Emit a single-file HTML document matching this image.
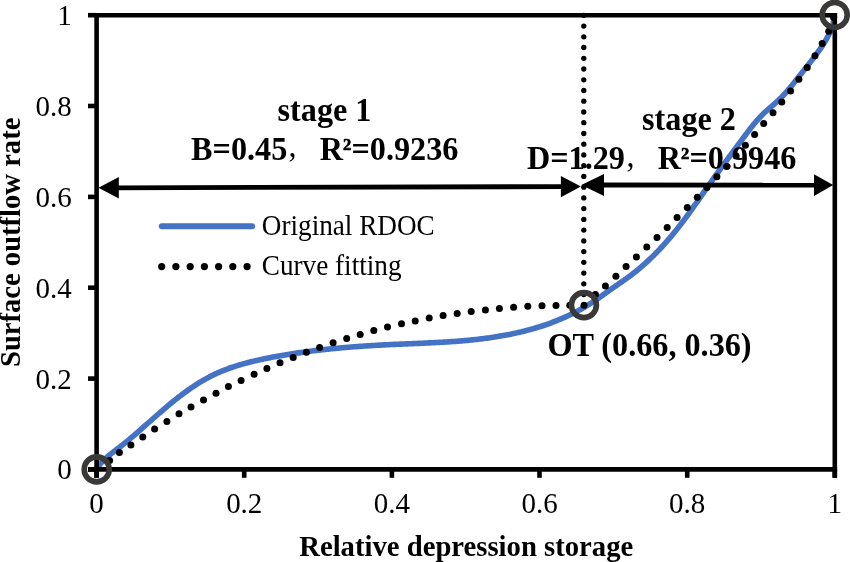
<!DOCTYPE html>
<html><head><meta charset="utf-8"><title>chart</title>
<style>
html,body{margin:0;padding:0;background:#fff;width:850px;height:562px;overflow:hidden;}
svg{display:block;will-change:transform;}
text{font-family:"Liberation Serif",serif;fill:#000;}
</style></head>
<body>
<svg width="850" height="562" viewBox="0 0 850 562">
<rect width="850" height="562" fill="#fff"/>
<path d="M96.48,469.26 L97.28,467.99 L98.11,466.76 L98.99,465.56 L99.91,464.40 L100.87,463.26 L101.85,462.15 L102.87,461.07 L103.92,460.02 L104.99,458.98 L106.09,457.97 L107.21,456.97 L108.35,455.99 L109.50,455.03 L110.67,454.08 L111.86,453.14 L113.05,452.21 L114.24,451.28 L115.45,450.36 L116.65,449.45 L117.85,448.53 L119.06,447.61 L120.25,446.69 L121.44,445.77 L122.62,444.84 L123.80,443.90 L124.97,442.96 L126.13,442.02 L127.29,441.07 L128.44,440.12 L129.59,439.17 L130.73,438.21 L131.87,437.24 L133.01,436.28 L134.14,435.31 L135.27,434.33 L136.39,433.36 L137.52,432.38 L138.64,431.40 L139.76,430.42 L140.88,429.43 L142.00,428.44 L143.11,427.46 L144.23,426.46 L145.35,425.47 L146.47,424.48 L147.59,423.48 L148.71,422.49 L149.83,421.49 L150.96,420.49 L152.09,419.49 L153.21,418.49 L154.35,417.50 L155.48,416.50 L156.61,415.50 L157.75,414.51 L158.89,413.51 L160.04,412.52 L161.18,411.53 L162.33,410.54 L163.48,409.55 L164.63,408.57 L165.79,407.59 L166.95,406.61 L168.11,405.63 L169.28,404.66 L170.45,403.70 L171.62,402.73 L172.80,401.78 L173.98,400.82 L175.17,399.88 L176.35,398.93 L177.54,398.00 L178.74,397.07 L179.94,396.14 L181.14,395.22 L182.35,394.31 L183.56,393.41 L184.78,392.51 L186.00,391.62 L187.23,390.74 L188.46,389.87 L189.69,389.00 L190.93,388.15 L192.18,387.30 L193.43,386.46 L194.68,385.64 L195.94,384.82 L197.21,384.01 L198.48,383.21 L199.75,382.42 L201.04,381.65 L202.32,380.88 L203.62,380.13 L204.92,379.39 L206.22,378.66 L207.53,377.94 L208.85,377.23 L210.17,376.54 L211.50,375.86 L212.83,375.19 L214.18,374.54 L215.52,373.90 L216.88,373.28 L218.24,372.67 L219.61,372.07 L220.98,371.49 L222.36,370.92 L223.74,370.36 L225.14,369.81 L226.53,369.28 L227.93,368.76 L229.34,368.25 L230.75,367.75 L232.17,367.27 L233.59,366.79 L235.01,366.33 L236.44,365.87 L237.87,365.43 L239.31,364.99 L240.75,364.57 L242.20,364.15 L243.64,363.74 L245.10,363.35 L246.55,362.96 L248.01,362.58 L249.47,362.20 L250.93,361.84 L252.39,361.48 L253.86,361.13 L255.33,360.78 L256.80,360.45 L258.27,360.11 L259.75,359.79 L261.22,359.47 L262.70,359.15 L264.18,358.85 L265.66,358.54 L267.14,358.24 L268.62,357.95 L270.10,357.66 L271.58,357.37 L273.06,357.09 L274.55,356.81 L276.03,356.53 L277.51,356.26 L278.99,355.99 L280.48,355.73 L281.96,355.47 L283.44,355.22 L284.93,354.96 L286.41,354.72 L287.90,354.47 L289.38,354.23 L290.87,353.99 L292.36,353.76 L293.84,353.53 L295.33,353.30 L296.82,353.08 L298.30,352.86 L299.79,352.64 L301.28,352.43 L302.77,352.22 L304.26,352.01 L305.75,351.81 L307.24,351.61 L308.73,351.41 L310.22,351.22 L311.71,351.03 L313.20,350.84 L314.69,350.65 L316.18,350.47 L317.67,350.29 L319.16,350.12 L320.65,349.95 L322.15,349.78 L323.64,349.61 L325.13,349.45 L326.63,349.28 L328.12,349.13 L329.61,348.97 L331.11,348.82 L332.60,348.67 L334.10,348.52 L335.59,348.37 L337.09,348.23 L338.58,348.09 L340.08,347.96 L341.57,347.82 L343.07,347.69 L344.56,347.56 L346.06,347.43 L347.56,347.31 L349.06,347.18 L350.55,347.06 L352.05,346.94 L353.55,346.83 L355.05,346.71 L356.54,346.60 L358.04,346.49 L359.54,346.39 L361.04,346.28 L362.54,346.18 L364.04,346.08 L365.54,345.98 L367.04,345.88 L368.54,345.78 L370.04,345.69 L371.54,345.60 L373.04,345.51 L374.54,345.42 L376.04,345.33 L377.54,345.25 L379.05,345.16 L380.55,345.08 L382.05,345.00 L383.55,344.92 L385.05,344.85 L386.56,344.77 L388.06,344.70 L389.56,344.62 L391.07,344.55 L392.57,344.48 L394.07,344.41 L395.58,344.35 L397.08,344.28 L398.58,344.21 L400.09,344.15 L401.59,344.09 L403.09,344.02 L404.60,343.96 L406.10,343.90 L407.61,343.83 L409.11,343.77 L410.62,343.71 L412.12,343.65 L413.62,343.58 L415.13,343.52 L416.63,343.46 L418.14,343.39 L419.64,343.33 L421.15,343.26 L422.65,343.20 L424.15,343.13 L425.66,343.06 L427.16,342.99 L428.66,342.92 L430.17,342.85 L431.67,342.78 L433.17,342.71 L434.68,342.63 L436.18,342.55 L437.68,342.47 L439.18,342.39 L440.68,342.31 L442.19,342.22 L443.69,342.13 L445.19,342.04 L446.69,341.95 L448.19,341.86 L449.69,341.76 L451.19,341.66 L452.69,341.55 L454.19,341.45 L455.69,341.34 L457.19,341.23 L458.68,341.11 L460.18,340.99 L461.68,340.87 L463.18,340.74 L464.67,340.61 L466.17,340.47 L467.66,340.34 L469.16,340.19 L470.65,340.05 L472.15,339.90 L473.64,339.74 L475.13,339.58 L476.63,339.42 L478.12,339.25 L479.61,339.08 L481.10,338.90 L482.59,338.71 L484.08,338.53 L485.57,338.33 L487.06,338.13 L488.55,337.93 L490.03,337.72 L491.52,337.50 L493.00,337.28 L494.49,337.06 L495.97,336.82 L497.46,336.59 L498.94,336.34 L500.42,336.09 L501.90,335.83 L503.38,335.57 L504.86,335.30 L506.34,335.02 L507.82,334.74 L509.30,334.45 L510.77,334.15 L512.24,333.85 L513.72,333.53 L515.19,333.22 L516.66,332.89 L518.12,332.56 L519.59,332.22 L521.05,331.87 L522.52,331.52 L523.98,331.16 L525.44,330.79 L526.89,330.41 L528.35,330.03 L529.80,329.63 L531.25,329.23 L532.70,328.83 L534.14,328.41 L535.59,327.99 L537.03,327.55 L538.46,327.11 L539.90,326.66 L541.33,326.21 L542.76,325.74 L544.19,325.27 L545.61,324.78 L547.03,324.29 L548.45,323.79 L549.86,323.28 L551.27,322.76 L552.68,322.23 L554.08,321.70 L555.48,321.15 L556.88,320.60 L558.27,320.03 L559.66,319.46 L561.04,318.88 L562.43,318.28 L563.80,317.68 L565.18,317.07 L566.55,316.45 L567.91,315.81 L569.27,315.17 L570.63,314.52 L571.98,313.86 L573.33,313.19 L574.67,312.51 L576.01,311.82 L577.34,311.11 L578.67,310.40 L579.99,309.68 L581.30,308.95 L582.61,308.21 L583.92,307.47 L585.22,306.71 L586.51,305.94 L587.80,305.16 L589.08,304.37 L590.35,303.58 L591.62,302.77 L592.88,301.95 L594.13,301.13 L595.38,300.29 L596.62,299.45 L597.86,298.59 L599.09,297.73 L600.31,296.87 L601.53,296.00 L602.75,295.13 L603.97,294.25 L605.19,293.37 L606.41,292.50 L607.63,291.62 L608.85,290.75 L610.08,289.88 L611.31,289.02 L612.55,288.16 L613.79,287.30 L615.03,286.44 L616.27,285.59 L617.51,284.74 L618.76,283.88 L620.00,283.03 L621.24,282.17 L622.48,281.31 L623.72,280.45 L624.95,279.58 L626.18,278.71 L627.40,277.83 L628.62,276.95 L629.83,276.05 L631.03,275.15 L632.23,274.24 L633.42,273.32 L634.60,272.39 L635.78,271.45 L636.95,270.51 L638.11,269.56 L639.26,268.60 L640.41,267.63 L641.55,266.65 L642.68,265.67 L643.81,264.68 L644.93,263.68 L646.04,262.67 L647.15,261.66 L648.25,260.64 L649.34,259.61 L650.43,258.57 L651.51,257.53 L652.58,256.48 L653.65,255.43 L654.71,254.37 L655.77,253.30 L656.82,252.23 L657.86,251.15 L658.90,250.06 L659.93,248.97 L660.96,247.87 L661.98,246.77 L663.00,245.66 L664.00,244.55 L665.01,243.43 L666.00,242.30 L667.00,241.17 L667.98,240.04 L668.96,238.90 L669.94,237.76 L670.91,236.61 L671.88,235.45 L672.84,234.29 L673.79,233.13 L674.74,231.97 L675.68,230.80 L676.62,229.62 L677.56,228.44 L678.49,227.26 L679.41,226.07 L680.33,224.88 L681.25,223.69 L682.16,222.49 L683.07,221.29 L683.97,220.09 L684.87,218.89 L685.77,217.68 L686.66,216.47 L687.55,215.25 L688.43,214.04 L689.32,212.82 L690.20,211.60 L691.08,210.38 L691.95,209.16 L692.83,207.93 L693.70,206.71 L694.57,205.48 L695.44,204.25 L696.30,203.02 L697.17,201.79 L698.03,200.56 L698.90,199.33 L699.76,198.10 L700.62,196.86 L701.49,195.63 L702.35,194.40 L703.21,193.17 L704.07,191.93 L704.94,190.70 L705.80,189.47 L706.67,188.24 L707.53,187.01 L708.40,185.78 L709.27,184.55 L710.13,183.33 L711.00,182.10 L711.87,180.87 L712.75,179.65 L713.62,178.43 L714.49,177.20 L715.37,175.98 L716.25,174.76 L717.12,173.54 L718.00,172.32 L718.88,171.10 L719.76,169.88 L720.64,168.67 L721.53,167.45 L722.41,166.23 L723.29,165.02 L724.18,163.80 L725.06,162.59 L725.95,161.38 L726.84,160.16 L727.73,158.95 L728.61,157.74 L729.50,156.53 L730.39,155.32 L731.29,154.11 L732.18,152.90 L733.07,151.69 L733.96,150.48 L734.86,149.27 L735.75,148.06 L736.65,146.85 L737.55,145.65 L738.44,144.44 L739.34,143.23 L740.24,142.02 L741.14,140.82 L742.04,139.61 L742.93,138.40 L743.83,137.20 L744.74,135.99 L745.64,134.79 L746.54,133.58 L747.45,132.38 L748.36,131.18 L749.27,129.99 L750.19,128.80 L751.11,127.61 L752.04,126.43 L752.98,125.26 L753.93,124.10 L754.89,122.94 L755.86,121.80 L756.84,120.66 L757.83,119.54 L758.83,118.43 L759.85,117.33 L760.88,116.25 L761.93,115.18 L762.99,114.12 L764.07,113.08 L765.17,112.05 L766.28,111.04 L767.39,110.03 L768.52,109.04 L769.65,108.04 L770.78,107.05 L771.92,106.07 L773.05,105.08 L774.18,104.09 L775.31,103.09 L776.43,102.09 L777.54,101.08 L778.64,100.06 L779.72,99.03 L780.79,97.99 L781.85,96.93 L782.88,95.85 L783.91,94.76 L784.92,93.66 L785.92,92.55 L786.91,91.43 L787.89,90.30 L788.86,89.16 L789.82,88.02 L790.77,86.86 L791.72,85.70 L792.66,84.54 L793.59,83.36 L794.53,82.19 L795.46,81.01 L796.39,79.83 L797.32,78.65 L798.24,77.46 L799.17,76.28 L800.10,75.10 L801.04,73.92 L801.97,72.74 L802.91,71.56 L803.85,70.38 L804.78,69.20 L805.72,68.02 L806.66,66.83 L807.59,65.65 L808.53,64.47 L809.46,63.28 L810.38,62.09 L811.31,60.90 L812.23,59.71 L813.15,58.51 L814.06,57.31 L814.96,56.11 L815.86,54.90 L816.76,53.69 L817.64,52.48 L818.52,51.26 L819.39,50.03 L820.25,48.80 L821.11,47.56 L821.95,46.32 L822.77,45.07 L823.58,43.81 L824.38,42.54 L825.16,41.26 L825.92,39.97 L826.66,38.67 L827.38,37.36 L828.07,36.04 L828.75,34.71 L829.39,33.37 L830.01,32.01 L830.61,30.63 L831.17,29.25 L831.70,27.84 L832.20,26.42 L832.67,24.99 L833.10,23.54 L833.49,22.07 L833.85,20.58 L834.17,19.08 L834.44,17.55" fill="none" stroke="#4472c4" stroke-width="5.6" stroke-linejoin="round" stroke-linecap="round"/><g fill="#000"><circle cx="109.6" cy="460.4" r="3.5"/><circle cx="119.4" cy="452.6" r="3.5"/><circle cx="130.9" cy="444.9" r="3.5"/><circle cx="142.8" cy="436.9" r="3.5"/><circle cx="154.6" cy="428.9" r="3.5"/><circle cx="166.9" cy="421.5" r="3.5"/><circle cx="179.0" cy="413.8" r="3.5"/><circle cx="191.0" cy="406.9" r="3.5"/><circle cx="203.5" cy="400.1" r="3.5"/><circle cx="216.0" cy="393.2" r="3.5"/><circle cx="228.4" cy="386.6" r="3.5"/><circle cx="241.1" cy="380.5" r="3.5"/><circle cx="254.1" cy="374.3" r="3.5"/><circle cx="266.9" cy="368.4" r="3.5"/><circle cx="280.0" cy="362.7" r="3.5"/><circle cx="293.2" cy="357.4" r="3.5"/><circle cx="306.4" cy="352.2" r="3.5"/><circle cx="319.6" cy="347.4" r="3.5"/><circle cx="333.1" cy="342.7" r="3.5"/><circle cx="346.7" cy="338.4" r="3.5"/><circle cx="360.2" cy="334.4" r="3.5"/><circle cx="373.8" cy="330.6" r="3.5"/><circle cx="387.5" cy="327.0" r="3.5"/><circle cx="401.5" cy="323.8" r="3.5"/><circle cx="415.2" cy="320.9" r="3.5"/><circle cx="429.2" cy="318.0" r="3.5"/><circle cx="443.1" cy="315.6" r="3.5"/><circle cx="457.2" cy="313.5" r="3.5"/><circle cx="471.2" cy="311.6" r="3.5"/><circle cx="485.4" cy="309.9" r="3.5"/><circle cx="499.4" cy="308.5" r="3.5"/><circle cx="513.6" cy="307.2" r="3.5"/><circle cx="527.8" cy="306.3" r="3.5"/><circle cx="542.0" cy="305.8" r="3.5"/><circle cx="556.0" cy="305.6" r="3.5"/><circle cx="569.8" cy="305.3" r="3.5"/><circle cx="584.0" cy="305.3" r="3.5"/><circle cx="595.4" cy="294.6" r="3.5"/><circle cx="605.4" cy="285.9" r="3.5"/><circle cx="615.9" cy="276.3" r="3.5"/><circle cx="626.1" cy="266.5" r="3.5"/><circle cx="636.4" cy="256.9" r="3.5"/><circle cx="646.8" cy="247.1" r="3.5"/><circle cx="657.0" cy="237.4" r="3.5"/><circle cx="667.2" cy="227.4" r="3.5"/><circle cx="677.1" cy="217.6" r="3.5"/><circle cx="687.3" cy="207.4" r="3.5"/><circle cx="697.3" cy="197.2" r="3.5"/><circle cx="706.9" cy="187.4" r="3.5"/><circle cx="716.9" cy="176.7" r="3.5"/><circle cx="726.7" cy="166.5" r="3.5"/><circle cx="736.1" cy="155.9" r="3.5"/><circle cx="745.4" cy="145.2" r="3.5"/><circle cx="754.6" cy="134.5" r="3.5"/><circle cx="763.7" cy="123.5" r="3.5"/><circle cx="773.0" cy="112.8" r="3.5"/><circle cx="781.8" cy="101.9" r="3.5"/><circle cx="790.6" cy="90.9" r="3.5"/><circle cx="798.9" cy="79.2" r="3.5"/><circle cx="807.2" cy="67.5" r="3.5"/><circle cx="815.0" cy="55.7" r="3.5"/><circle cx="822.2" cy="43.4" r="3.5"/><circle cx="828.7" cy="31.3" r="3.5"/><circle cx="833.6" cy="17.6" r="3.5"/></g><g fill="#000"><circle cx="583.8" cy="305.3" r="2.65"/><circle cx="583.8" cy="294.6" r="2.65"/><circle cx="583.8" cy="283.8" r="2.65"/><circle cx="583.8" cy="273.1" r="2.65"/><circle cx="583.8" cy="262.3" r="2.65"/><circle cx="583.8" cy="251.6" r="2.65"/><circle cx="583.8" cy="240.9" r="2.65"/><circle cx="583.8" cy="230.1" r="2.65"/><circle cx="583.8" cy="219.4" r="2.65"/><circle cx="583.8" cy="208.6" r="2.65"/><circle cx="583.8" cy="197.9" r="2.65"/><circle cx="583.8" cy="187.2" r="2.65"/><circle cx="583.8" cy="176.4" r="2.65"/><circle cx="583.8" cy="165.7" r="2.65"/><circle cx="583.8" cy="154.9" r="2.65"/><circle cx="583.8" cy="144.2" r="2.65"/><circle cx="583.8" cy="133.5" r="2.65"/><circle cx="583.8" cy="122.7" r="2.65"/><circle cx="583.8" cy="112.0" r="2.65"/><circle cx="583.8" cy="101.2" r="2.65"/><circle cx="583.8" cy="90.5" r="2.65"/><circle cx="583.8" cy="79.8" r="2.65"/><circle cx="583.8" cy="69.0" r="2.65"/><circle cx="583.8" cy="58.3" r="2.65"/><circle cx="583.8" cy="47.5" r="2.65"/><circle cx="583.8" cy="36.8" r="2.65"/><circle cx="583.8" cy="26.1" r="2.65"/><circle cx="583.8" cy="15.3" r="2.65"/></g><g stroke="#000" stroke-width="4.6" fill="none"><line x1="96.6" y1="12.9" x2="96.6" y2="477.8"/><line x1="88.0" y1="469.4" x2="837.1" y2="469.4"/><line x1="94.3" y1="15.2" x2="837.1" y2="15.2"/><line x1="834.8" y1="12.9" x2="834.8" y2="477.8"/><line x1="88" y1="469.4" x2="96.6" y2="469.4"/><line x1="96.6" y1="469.4" x2="96.6" y2="477.8"/><line x1="88" y1="378.6" x2="96.6" y2="378.6"/><line x1="244.2" y1="469.4" x2="244.2" y2="477.8"/><line x1="88" y1="287.7" x2="96.6" y2="287.7"/><line x1="391.9" y1="469.4" x2="391.9" y2="477.8"/><line x1="88" y1="196.9" x2="96.6" y2="196.9"/><line x1="539.5" y1="469.4" x2="539.5" y2="477.8"/><line x1="88" y1="106.0" x2="96.6" y2="106.0"/><line x1="687.2" y1="469.4" x2="687.2" y2="477.8"/><line x1="88" y1="15.2" x2="96.6" y2="15.2"/><line x1="834.8" y1="469.4" x2="834.8" y2="477.8"/></g><line x1="114.7" y1="187.8" x2="564.9" y2="186.6" stroke="#000" stroke-width="4.8"/><polygon points="98.5,187.8 118.8,198.4 118.8,177.0"/><polygon points="580.9,186.6 560.9,197.3 560.9,175.9"/><line x1="599.5" y1="185.0" x2="817.8" y2="185.1" stroke="#000" stroke-width="4.8"/><polygon points="581.3,185.0 604.0,195.9 604.0,174.1"/><polygon points="833.2,185.1 814.0,196.0 814.0,174.2"/><circle cx="96.7" cy="469.4" r="12.5" fill="none" stroke="#3b3838" stroke-width="5.6"/><circle cx="583.9" cy="305.1" r="12.5" fill="none" stroke="#3b3838" stroke-width="5.6"/><circle cx="834.7" cy="14.9" r="12.5" fill="none" stroke="#3b3838" stroke-width="5.6"/><line x1="161.8" y1="226.2" x2="252.1" y2="226.2" stroke="#4472c4" stroke-width="6" stroke-linecap="round"/><g fill="#000"><circle cx="161.7" cy="266.6" r="3.6"/><circle cx="175.9" cy="266.6" r="3.6"/><circle cx="190.2" cy="266.6" r="3.6"/><circle cx="204.4" cy="266.6" r="3.6"/><circle cx="218.6" cy="266.6" r="3.6"/><circle cx="232.8" cy="266.6" r="3.6"/><circle cx="247.1" cy="266.6" r="3.6"/></g><text transform="translate(71.80,479.40) scale(1,1.020)" font-size="29.0" text-anchor="end">0</text><text transform="translate(96.60,513.00) scale(1,1.020)" font-size="29.0" text-anchor="middle">0</text><text transform="translate(71.80,388.56) scale(1,1.020)" font-size="29.0" text-anchor="end">0.2</text><text transform="translate(244.24,513.00) scale(1,1.020)" font-size="29.0" text-anchor="middle">0.2</text><text transform="translate(71.80,297.72) scale(1,1.020)" font-size="29.0" text-anchor="end">0.4</text><text transform="translate(391.88,513.00) scale(1,1.020)" font-size="29.0" text-anchor="middle">0.4</text><text transform="translate(71.80,206.88) scale(1,1.020)" font-size="29.0" text-anchor="end">0.6</text><text transform="translate(539.52,513.00) scale(1,1.020)" font-size="29.0" text-anchor="middle">0.6</text><text transform="translate(71.80,116.04) scale(1,1.020)" font-size="29.0" text-anchor="end">0.8</text><text transform="translate(687.16,513.00) scale(1,1.020)" font-size="29.0" text-anchor="middle">0.8</text><text transform="translate(71.80,25.20) scale(1,1.020)" font-size="29.0" text-anchor="end">1</text><text transform="translate(834.80,513.00) scale(1,1.020)" font-size="29.0" text-anchor="middle">1</text><text transform="translate(261.80,234.90) scale(1,1.050)" font-size="27.2" text-anchor="start">Original RDOC</text><text transform="translate(261.80,274.50) scale(1,1.050)" font-size="27.2" text-anchor="start">Curve fitting</text><text transform="translate(324.50,120.50) scale(1,1.050)" font-size="32.2" font-weight="bold" text-anchor="middle">stage 1</text><text transform="translate(689.00,129.50) scale(1,1.050)" font-size="32.2" font-weight="bold" text-anchor="middle">stage 2</text><text transform="translate(0,160.00) scale(1,1.050)" font-size="32.2" font-weight="bold"><tspan x="191.10">B=0.45</tspan><tspan x="288.60" dy="-2.5" font-weight="normal" font-size="32">,</tspan><tspan x="319.65" dy="2.5">R</tspan><tspan font-size="16.5" dy="-9.6" stroke="#000" stroke-width="0.6">2</tspan><tspan dy="9.6" dx="0.35">=0.9236</tspan></text><text transform="translate(0,169.40) scale(1,1.050)" font-size="32.2" font-weight="bold"><tspan x="527.00">D=1.29</tspan><tspan x="626.60" dy="-2.5" font-weight="normal" font-size="32">,</tspan><tspan x="657.65" dy="2.5">R</tspan><tspan font-size="16.5" dy="-9.6" stroke="#000" stroke-width="0.6">2</tspan><tspan dy="9.6" dx="0.35">=0.9946</tspan></text><text transform="translate(547.40,356.20) scale(1,1.050)" font-size="32.2" font-weight="bold" text-anchor="start">OT (0.66, 0.36)</text><text transform="translate(466.20,555.80) scale(1,1.050)" font-size="28.7" font-weight="bold" text-anchor="middle">Relative depression storage</text><text transform="translate(19.6,242.3) rotate(-90)" font-size="28.6" font-weight="bold" text-anchor="middle">Surface outflow rate</text>
</svg>
</body></html>
